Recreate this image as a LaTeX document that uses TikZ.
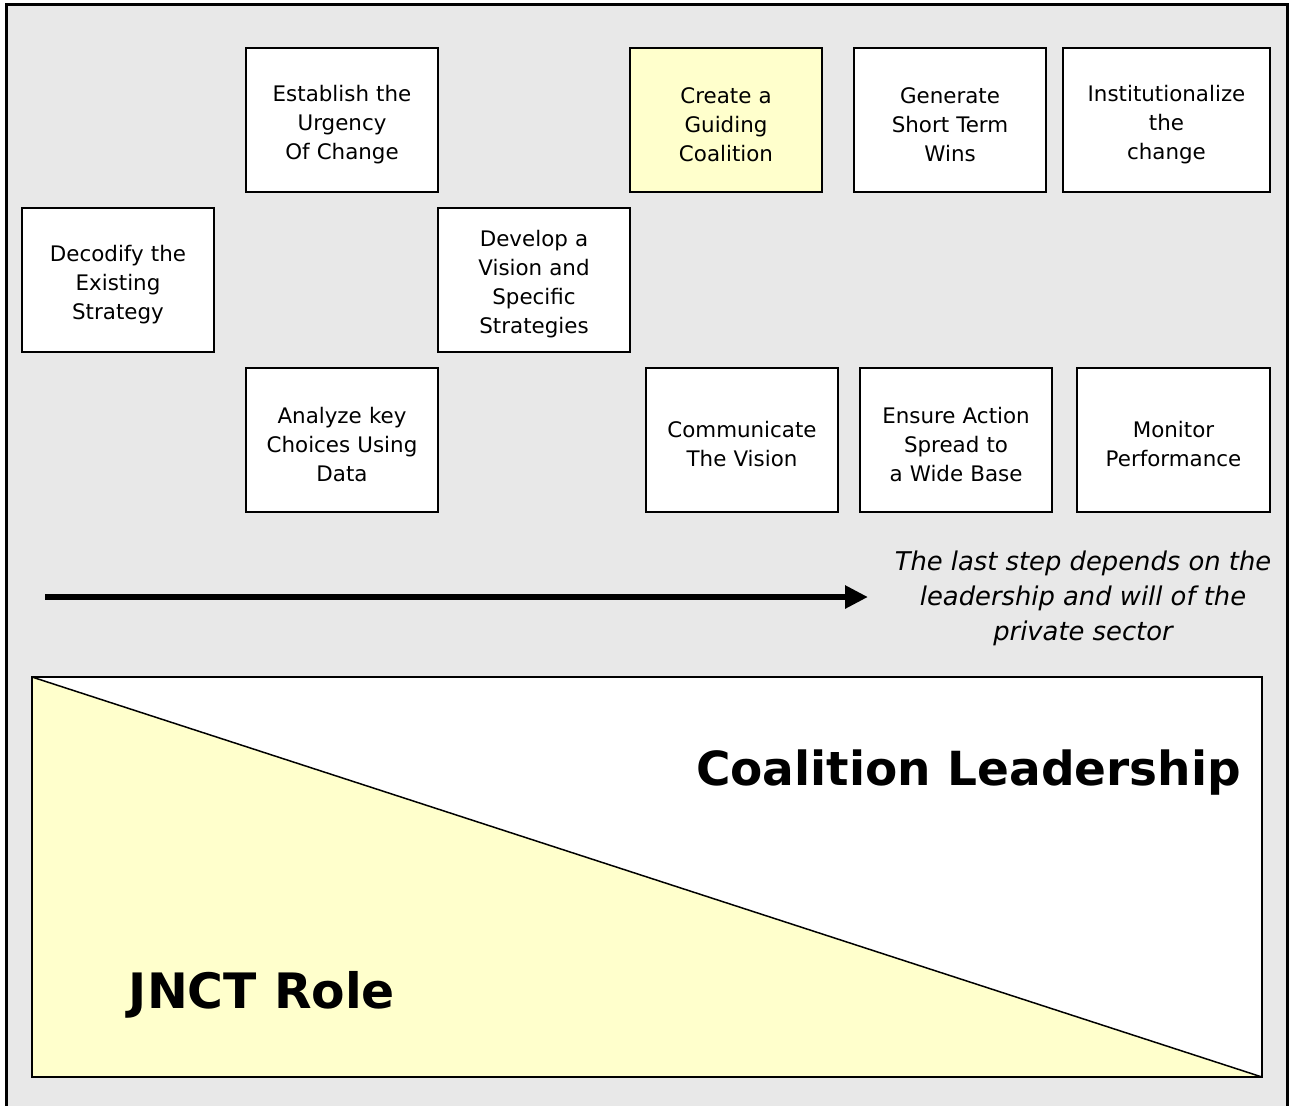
\documentclass[tikz,border=0pt]{standalone}
\usepackage{fontspec}
\setmainfont{DejaVu Sans}
\usepackage{xcolor}
\usetikzlibrary{arrows.meta}

\definecolor{paleyellow}{HTML}{FFFFCC}
\definecolor{panelgrey}{HTML}{E8E8E8}

\begin{document}
\begin{tikzpicture}[x=0.5pt,y=-0.5pt]
        \tikzstyle{stepbox}=[draw,line width=1pt,fill=white,minimum width=96pt,minimum height=72pt,inner sep=0pt,text width=90pt,align=center,font=\fontsize{10.7}{14.5}\selectfont,execute at begin node={\rule{0pt}{12.5pt}}]
        \useasboundingbox (0,0) rectangle (1290,1105);
        \draw[line width=1.5pt,fill=panelgrey] (6,4) rectangle (1287,1125);

        \node[stepbox] (2) at (342,120) {Establish the\\Urgency\\Of Change};
        \node[stepbox,fill=paleyellow] (4) at (726,120) {Create a\\Guiding\\Coalition};
        \node[stepbox] (7) at (950,120) {Generate\\Short Term\\Wins};
        \node[stepbox,minimum width=103.5pt] (9) at (1166.5,120) {Institutionalize\\the\\change};

        \node[stepbox] (1) at (118,280) {Decodify the\\Existing\\Strategy};
        \node[stepbox] (5) at (534,280) {Develop a\\Vision and\\Specific\\Strategies};

        \node[stepbox] (3) at (342,440) {Analyze key\\Choices Using\\Data};
        \node[stepbox] (6) at (742,440) {Communicate\\The Vision};
        \node[stepbox] (8) at (956,440) {Ensure Action\\Spread to\\a Wide Base};
        \node[stepbox,minimum width=96.5pt] (10) at (1173.5,440) {Monitor\\Performance};

        \coordinate (11) at (45,597);
        \coordinate (12) at (868,597);
        \draw[line width=3pt,-{Triangle[length=11.5pt,width=11pt]}] (11) to (12);
        \node[align=center,font=\fontsize{12.9}{17.5}\selectfont\itshape] (13) at (1083,598) {The last step depends on the\\leadership and will of the\\private sector};

        \coordinate (14) at (32,677);
        \coordinate (15) at (1262,677);
        \coordinate (16) at (1262,1077);
        \coordinate (17) at (32,1077);
        \fill[white] (14) rectangle (16);
        \fill[paleyellow] (14) -- (17) -- (16) -- cycle;
        \draw[line width=0.75pt] (14) to (16);
        \draw[line width=1pt] (14) rectangle (16);

        \node[anchor=east,font=\fontsize{23.5}{28}\selectfont\bfseries] (18) at (1248,773) {Coalition Leadership};
        \node[font=\fontsize{24.4}{28}\selectfont\bfseries] (19) at (262,995) {JNCT Role};
    \end{tikzpicture}
\end{document}
